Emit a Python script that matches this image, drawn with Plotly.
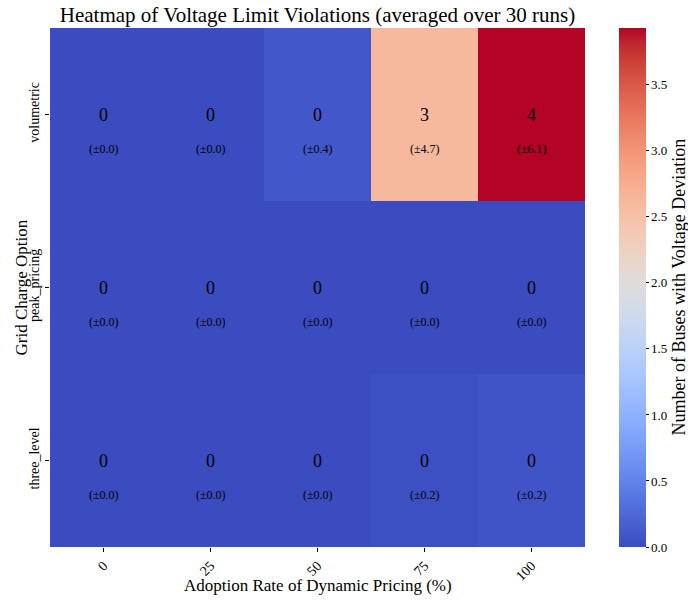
import plotly.graph_objects as go

adoption_rates = ["0", "25", "50", "75", "100"]
grid_options = ["volumetric", "peak_pricing", "three_level"]
mean_values = [
    [0.0, 0.0, 0.1, 2.6, 3.93],
    [0.0, 0.0, 0.0, 0.0, 0.0],
    [0.0, 0.0, 0.0, 0.033, 0.067],
]
std_values = [
    [0.0, 0.0, 0.4, 4.7, 6.1],
    [0.0, 0.0, 0.0, 0.0, 0.0],
    [0.0, 0.0, 0.0, 0.2, 0.2],
]

coolwarm_pts = [
    (59, 76, 192), (68, 90, 204), (77, 104, 215), (87, 117, 225), (98, 130, 234),
    (108, 142, 241), (119, 154, 247), (130, 165, 251), (141, 176, 254), (152, 185, 255),
    (163, 194, 255), (174, 201, 253), (184, 208, 249), (194, 213, 244), (204, 217, 238),
    (213, 219, 230), (221, 221, 221), (229, 216, 209), (236, 211, 197), (241, 204, 185),
    (245, 196, 173), (247, 187, 160), (247, 177, 148), (247, 166, 135), (244, 154, 123),
    (241, 141, 111), (236, 127, 99), (229, 112, 88), (222, 96, 77), (213, 80, 66),
    (203, 62, 56), (192, 40, 47), (180, 4, 38),
]
n = len(coolwarm_pts) - 1
colorscale = [[i / n, "rgb(%d,%d,%d)" % c] for i, c in enumerate(coolwarm_pts)]

FONT = "Liberation Serif"
zmax = max(max(r) for r in mean_values)
xi = list(range(len(adoption_rates)))
yi = list(range(len(grid_options)))

W, H = 688, 601
ML, MR, MT, MB = 50, 103, 28, 54
PW, PH = W - ML - MR, H - MT - MB

fig = go.Figure(
    go.Heatmap(
        z=mean_values,
        x=xi,
        y=yi,
        colorscale=colorscale,
        zmin=0,
        zmax=zmax,
        xgap=0,
        ygap=0,
        hoverinfo="skip",
        colorbar=dict(
            thickness=27,
            thicknessmode="pixels",
            len=1,
            lenmode="fraction",
            x=(619 - ML) / PW,
            xanchor="left",
            xpad=0,
            y=0.5,
            yanchor="middle",
            ypad=0,
            outlinewidth=0,
            tickvals=[0, 0.5, 1.0, 1.5, 2.0, 2.5, 3.0, 3.5],
            tickformat=".1f",
            ticks="outside",
            ticklen=3,
            tickcolor="black",
            tickfont=dict(family=FONT, size=13, color="black"),
        ),
    )
)

annotations = []
for i in yi:
    for j in xi:
        annotations.append(dict(
            x=j, y=i, xref="x", yref="y",
            text="%d" % round(mean_values[i][j] + 1e-9),
            showarrow=False,
            font=dict(family=FONT, size=18, color="black"),
        ))
        annotations.append(dict(
            x=j, y=i, xref="x", yref="y",
            text="(±%.1f)" % std_values[i][j],
            showarrow=False, yshift=-34,
            font=dict(family=FONT, size=12, color="black"),
        ))

# axis / colorbar titles as annotations at fixed positions
annotations.append(dict(
    text="Adoption Rate of Dynamic Pricing (%)",
    xref="paper", yref="paper", x=0.5, y=-(585 - (H - MB)) / PH,
    xanchor="center", yanchor="middle", showarrow=False,
    font=dict(family=FONT, size=17, color="black"),
))
annotations.append(dict(
    text="Grid Charge Option",
    xref="paper", yref="paper", x=-(ML - 21) / PW, y=0.5,
    xanchor="center", yanchor="middle", showarrow=False, textangle=-90,
    font=dict(family=FONT, size=17, color="black"),
))
annotations.append(dict(
    text="Number of Buses with Voltage Deviation",
    xref="paper", yref="paper", x=(678 - ML) / PW, y=0.5,
    xanchor="center", yanchor="middle", showarrow=False, textangle=-90,
    font=dict(family=FONT, size=18, color="black"),
))

fig.update_layout(
    width=W,
    height=H,
    margin=dict(l=ML, r=MR, t=MT, b=MB, autoexpand=False),
    paper_bgcolor="white",
    plot_bgcolor="white",
    font=dict(family=FONT, color="black"),
    title=dict(
        text="Heatmap of Voltage Limit Violations (averaged over 30 runs)",
        x=(ML + (W - MR)) / 2 / W, xanchor="center",
        y=1 - 15 / H, yanchor="middle",
        xref="container", yref="container",
        font=dict(family=FONT, size=21, color="black"),
    ),
    xaxis=dict(
        range=[-0.5, len(adoption_rates) - 0.5],
        tickmode="array", tickvals=xi, ticktext=adoption_rates,
        tickangle=-45,
        ticks="outside", ticklen=4, tickcolor="black",
        showgrid=False, zeroline=False, showline=False,
        automargin=False,
        tickfont=dict(family=FONT, size=14, color="black"),
    ),
    yaxis=dict(
        range=[len(grid_options) - 0.5, -0.5],
        tickmode="array", tickvals=yi, ticktext=grid_options,
        tickangle=-90,
        ticks="outside", ticklen=4, tickcolor="black",
        showgrid=False, zeroline=False, showline=False,
        automargin=False,
        tickfont=dict(family=FONT, size=14, color="black"),
    ),
    annotations=annotations,
)

fig.write_html("out.html")
